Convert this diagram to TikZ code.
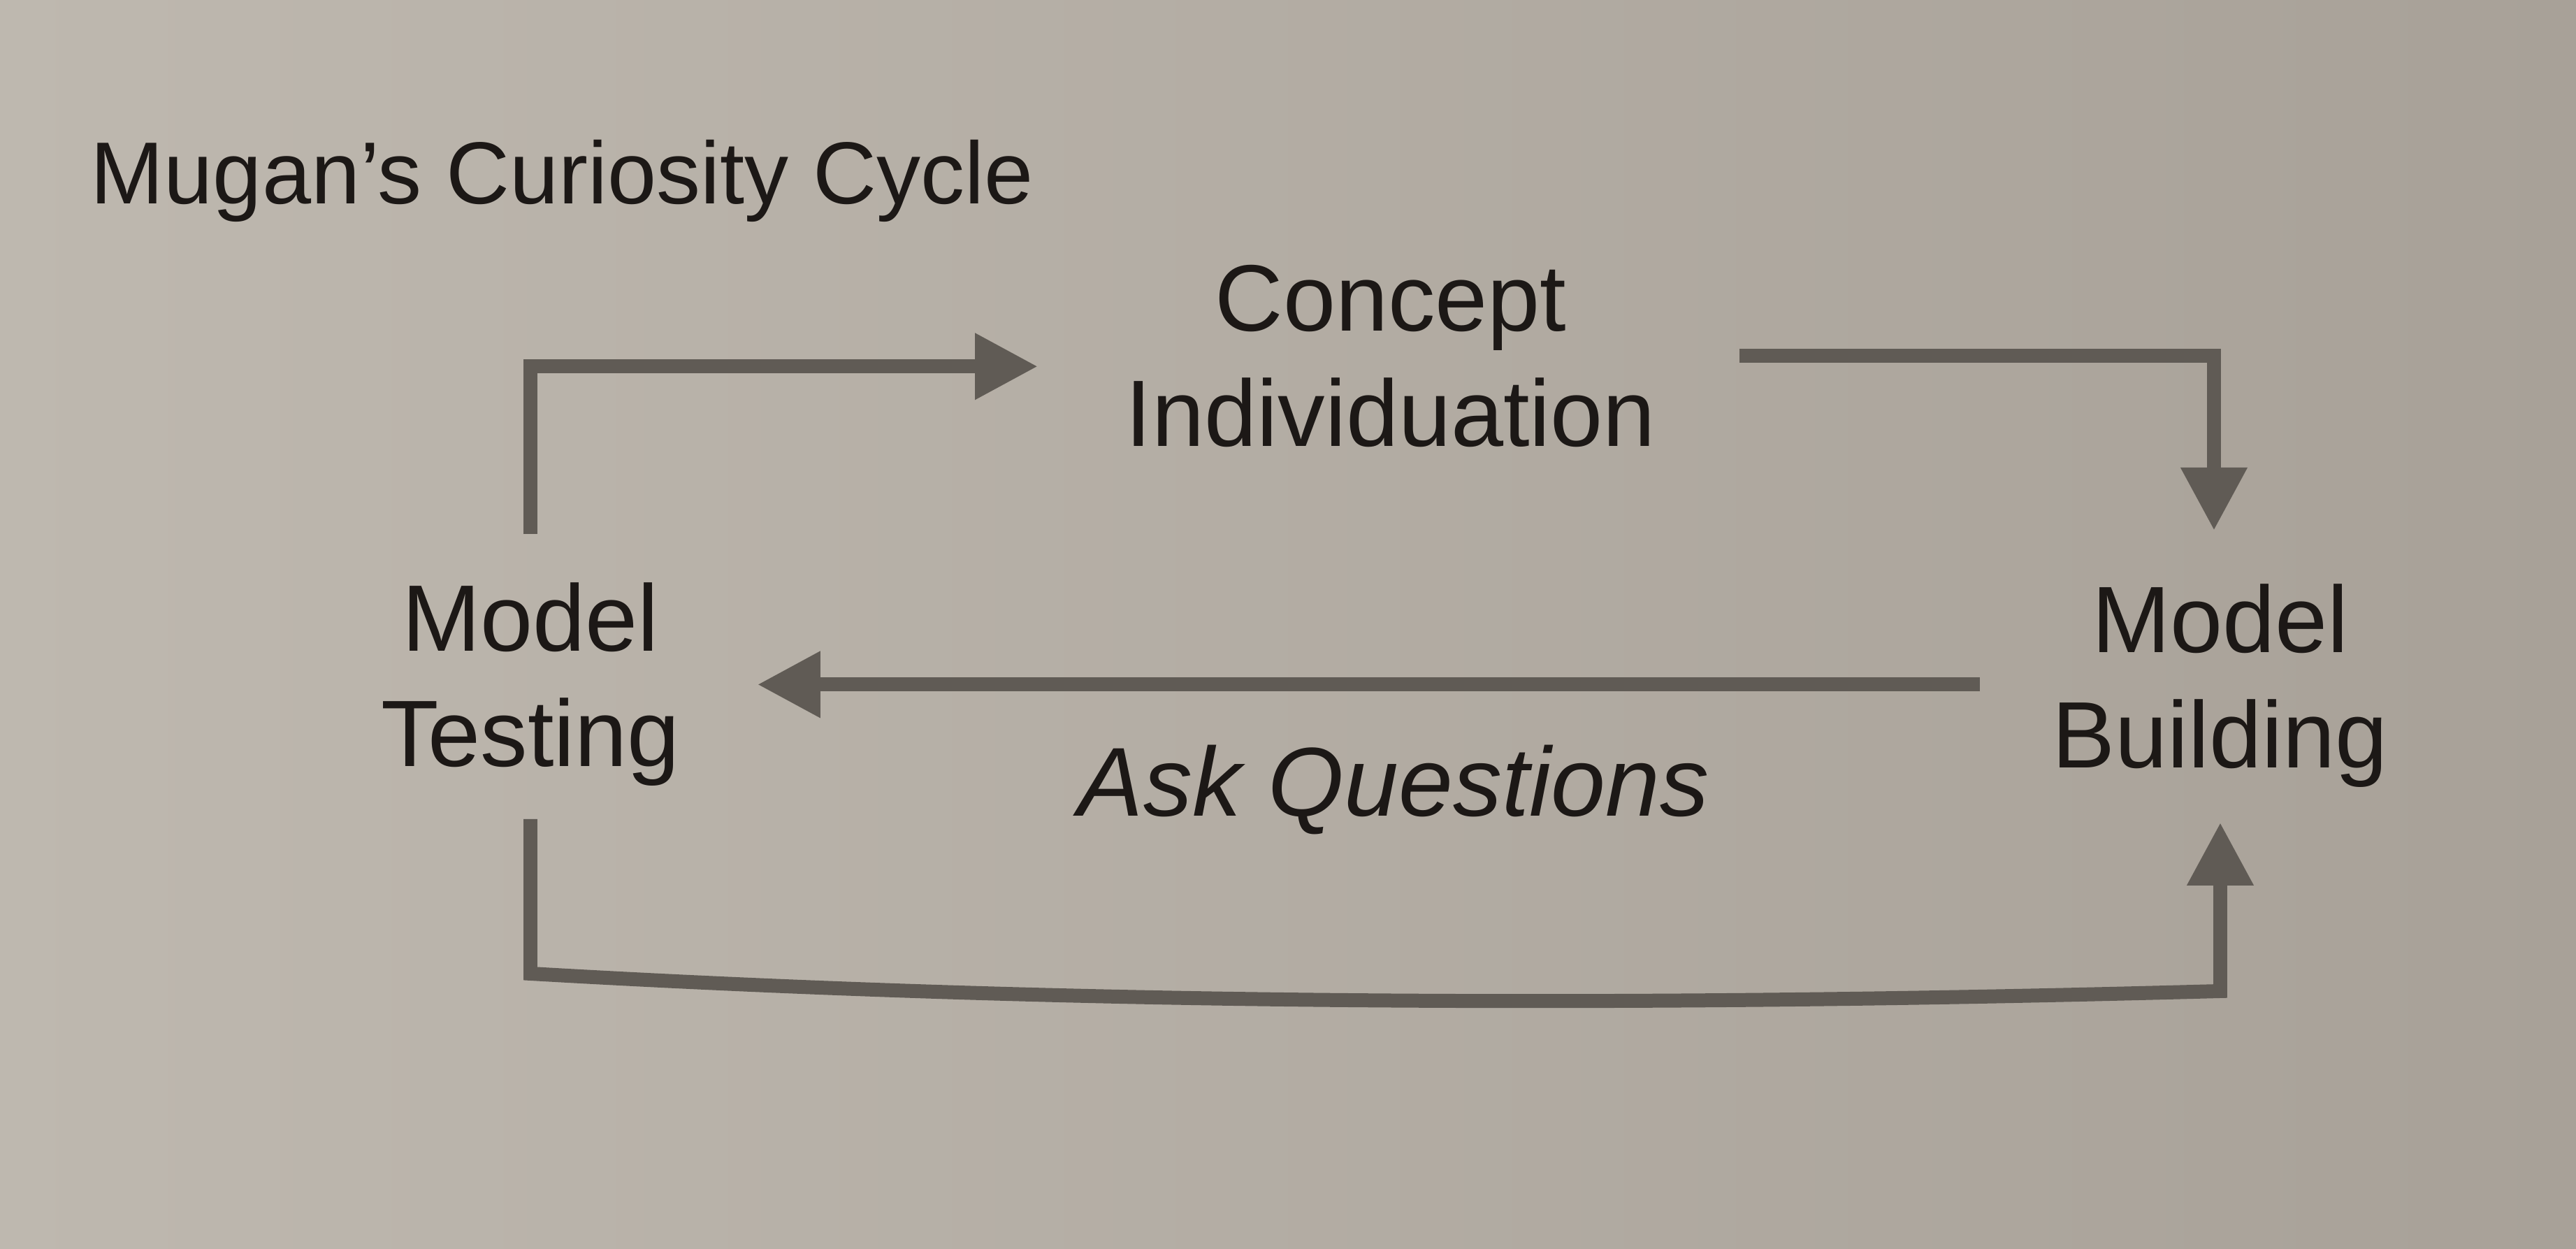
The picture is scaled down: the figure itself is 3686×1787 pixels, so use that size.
\documentclass[tikz,border=0pt]{standalone}
\usepackage{fontspec}
\setmainfont{Liberation Sans}
\usetikzlibrary{arrows.meta}
\definecolor{paperL}{HTML}{BEB8AF}
\definecolor{paperR}{HTML}{A8A198}
\definecolor{ink}{HTML}{1C1816}
\definecolor{lineg}{HTML}{605B55}
\begin{document}
\begin{tikzpicture}[x=0.1pt,y=-0.1pt,
  lbl/.style={inner sep=0pt, align=center, text=ink, font=\fontsize{13.5}{16.5}\selectfont},
  conn/.style={draw=lineg, line width=2pt, -{Triangle[width=9pt,length=9pt]}, line join=miter}]
\shade[left color=paperL, right color=paperR] (0,0) rectangle (3686,1787);
\useasboundingbox (0,0) rectangle (3686,1787);
\node[anchor=base west, inner sep=0pt, text=ink, font=\fontsize{12.6}{15}\selectfont] (title) at (128,292) {Mugan’s Curiosity Cycle};
\node[lbl, anchor=north] (ci) at (1990,377) {Concept\\Individuation};
\node[lbl, anchor=north] (mt) at (759,832) {Model\\Testing};
\node[lbl, anchor=north] (mb) at (3177,834) {Model\\Building};
\node[anchor=base, inner sep=0pt, text=ink, font=\fontsize{14}{16}\selectfont\itshape] (aq) at (1994,1168) {Ask Questions};
\coordinate (bl) at (760,1393);
\coordinate (br) at (3177,1418);
\draw[conn] ([yshift=6.8pt]mt.north) |- ([xshift=-12.4pt,yshift=-1.5pt]ci.west);
\draw[conn] ([xshift=11.8pt]ci.east) -| ([xshift=-0.9pt,yshift=7.5pt]mb.north);
\draw[conn] ([xshift=-10.2pt]mb.west |- mt.east) -- ([xshift=10.9pt]mt.east);
\draw[conn] ([yshift=-4.5pt]mt.south) -- (mt.south |- bl) .. controls (1570,1440) and (2370,1440) .. (mb.south |- br) -- ([yshift=-4.8pt]mb.south);
\end{tikzpicture}
\end{document}
